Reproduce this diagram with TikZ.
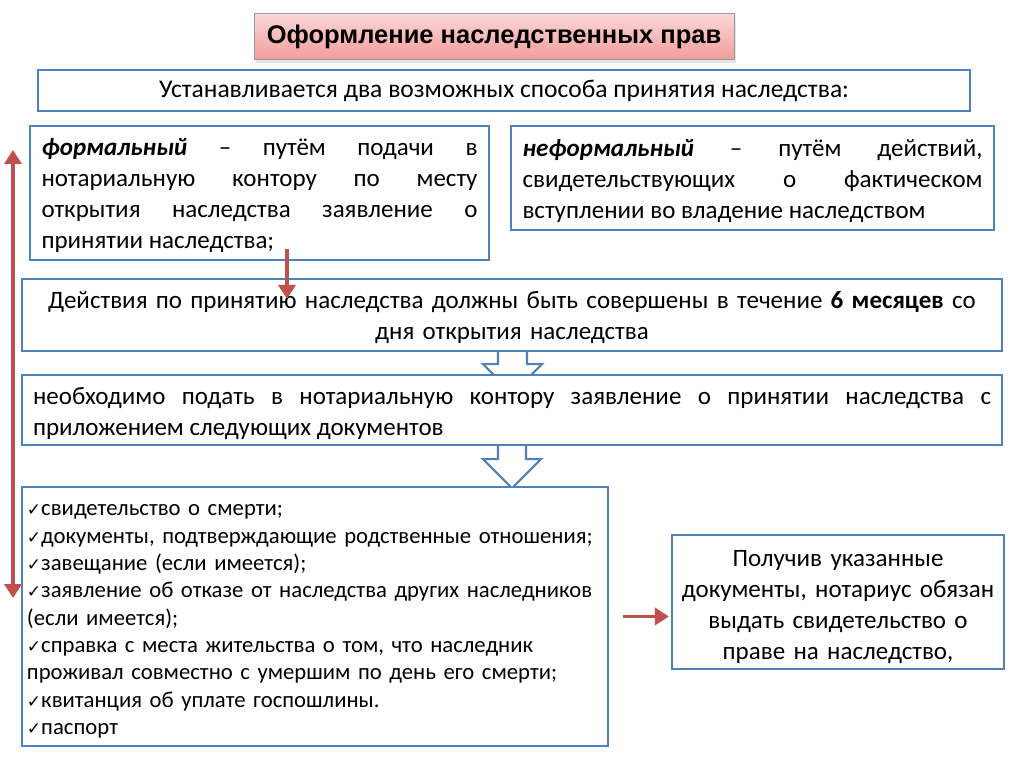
\documentclass[tikz,border=0pt]{standalone}
\usepackage{fontspec}
\setmainfont{Carlito}
\newfontfamily\titlefont{Liberation Sans}
\newfontfamily\symfont{DejaVu Sans}
\usetikzlibrary{arrows.meta,calc,shadows}
\definecolor{bblue}{HTML}{4F81BD}
\definecolor{rred}{HTML}{C0504D}
\definecolor{pinktop}{RGB}{252,214,214}
\definecolor{pinkbot}{RGB}{242,156,156}
\newcommand{\ck}{{\symfont\fontsize{17}{17}\selectfont ✓}}
\tikzset{
  box/.style={draw=bblue, line width=2.2pt, fill=white, inner sep=0pt},
  bodyfont/.style={font=\fontsize{25}{31}\selectfont},
  lower/.style={execute at end node={\par\vspace*{-#1}}},
  hollow/.style={draw=bblue, line width=2.2pt, fill=white, line join=miter},
  redarrow/.style={draw=rred, line width=3.6pt, -{Triangle[width=17pt,length=14pt]}},
  redboth/.style={draw=rred, line width=3.6pt, {Triangle[width=17pt,length=14pt]}-{Triangle[width=17pt,length=14pt]}}
}
\begin{document}
\begin{tikzpicture}[x=1pt,y=-1pt]
\useasboundingbox[fill=white] (0,0) rectangle (1024,767);

% title
\node[draw=black!40, line width=1pt, top color=pinktop, bottom color=pinkbot,
      minimum width=480pt, minimum height=46pt, inner sep=0pt,
      drop shadow={opacity=0.2, shadow xshift=2pt, shadow yshift=-3pt},
      font=\titlefont\bfseries\fontsize{25.5}{28}\selectfont] (title) at (494,37) {Оформление наследственных прав};

% top line
\node[box, minimum width=932pt, minimum height=41pt, font=\fontsize{25.5}{28}\selectfont] (top) at (504,90.5)
  {Устанавливается два возможных способа принятия наследства:};

% formal
\node[box, bodyfont, lower=6pt, minimum width=459pt, minimum height=134pt, text width=436pt, align=justify] (formal) at (259.5,193)
  {\textbf{\textit{формальный}} – путём подачи в нотариальную контору по месту открытия наследства заявление о принятии наследства;};

% informal
\node[box, bodyfont, lower=6pt, minimum width=483pt, minimum height=104pt, text width=460pt, align=justify] (informal) at (752.5,178)
  {\textbf{\textit{неформальный}} – путём действий, свидетельствующих о фактическом вступлении во владение наследством};

% actions
\node[box, bodyfont, lower=6pt, minimum width=980pt, minimum height=72pt, text width=960pt, align=center] (act) at (512,315)
  {Действия по принятию наследства должны быть совершены в течение \textbf{6 месяцев} со\\дня открытия наследства};

% hollow arrow 1 (tip hidden by next box)
\draw[hollow] ($(act.south)+(-14,0)$) -- ++(0,12) -- ++(-15,0) -- ++(29.5,29.5) -- ++(29.5,-29.5) -- ++(-15,0) -- ++(0,-12);

% need
\node[box, bodyfont, lower=8pt, minimum width=980pt, minimum height=70pt, text width=958pt, align=justify] (need) at (512,410)
  {необходимо подать в нотариальную контору заявление о принятии наследства с приложением следующих документов};

% hollow arrow 2
\draw[hollow] ($(need.south)+(-14,0)$) -- ++(0,13) -- ++(-15,0) -- ++(29,29) -- ++(29,-29) -- ++(-15,0) -- ++(0,-13);

% checklist
\node[box, lower=10pt, minimum width=586pt, minimum height=259pt, text width=576pt, align=left,
      font=\fontsize{22.7}{27.3}\selectfont] (list) at (315,616.5)
  {\ck свидетельство о смерти;\\
   \ck документы, подтверждающие родственные отношения;\\
   \ck завещание (если имеется);\\
   \ck заявление об отказе от наследства других наследников\\
   (если имеется);\\
   \ck справка с места жительства о том, что наследник\\
   проживал совместно с умершим по день его смерти;\\
   \ck квитанция об уплате госпошлины.\\
   \ck паспорт};

% right box
\node[box, bodyfont, lower=10pt, minimum width=332pt, minimum height=134pt, text width=326pt, align=center] (right) at (838,602)
  {Получив указанные\\документы, нотариус обязан\\выдать свидетельство о\\праве на наследство,};

% red arrows
\coordinate (vt) at (13,150);
\coordinate (vb) at (13,598);
\draw[redboth] (vt) -- (vb);
\draw[redarrow] ($(formal.south)+(27.5,-12)$) -- ($(act.north)+(-225,21)$);
\draw[redarrow] ($(list.east)+(14,0)$) -- ($(right.west)+(-2,14.5)$);
\end{tikzpicture}
\end{document}
